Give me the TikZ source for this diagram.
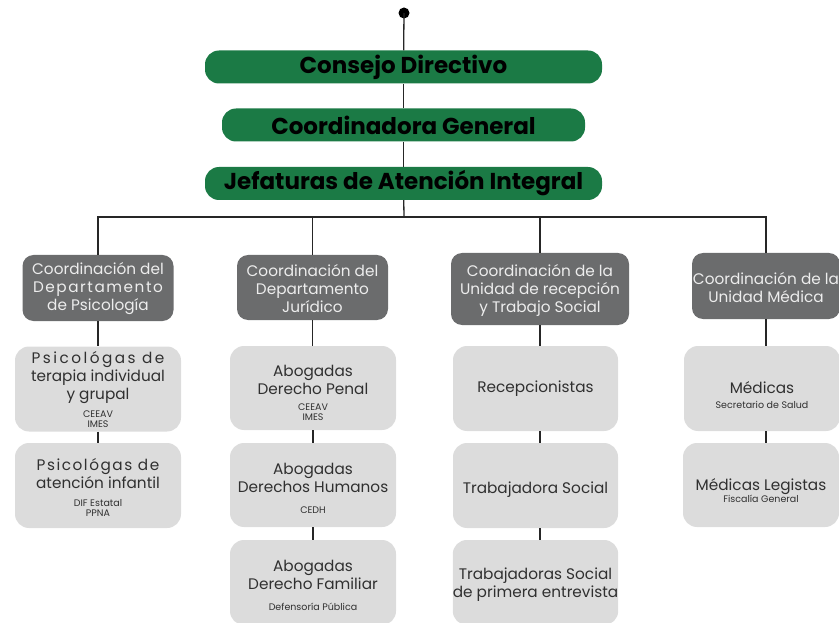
\documentclass[tikz,border=0pt]{standalone}
\usepackage{fontspec}
\setmainfont{Poppins}
\definecolor{vgreen}{HTML}{1B7A45}
\definecolor{dgray}{HTML}{6B6C6D}
\definecolor{lgray}{HTML}{DCDCDC}
\definecolor{ltext}{HTML}{303030}
\definecolor{wtext}{HTML}{EDEDED}
\newcommand\subtxt[1]{{\fontsize{9.5}{11}\selectfont #1}}
\newcommand\spaced[2]{{\addfontfeature{LetterSpace=#1}#2}}
\newcommand\down[1]{\rule{0pt}{#1pt}}
\begin{document}
\begin{tikzpicture}[x=1pt,y=-1pt,
  greenbox/.style={fill=vgreen, rounded corners=14pt, text=black,
    font=\fontsize{23}{26}\selectfont\bfseries, inner sep=0pt, minimum height=33pt},
  coordbox/.style={fill=dgray, rounded corners=11pt, text=wtext, align=center,
    font=\fontsize{15.3}{18}\selectfont, inner sep=0pt, minimum height=66pt},
  staffbox/.style={fill=lgray, rounded corners=14pt, text=ltext, align=center,
    font=\fontsize{15.3}{18}\selectfont, inner sep=0pt, minimum width=166pt, minimum height=85pt},
  link/.style={draw=black!85, line width=1.3pt}
]
\useasboundingbox (0,0) rectangle (839,623);

% top
\coordinate (top) at (404,13);
\node[greenbox, minimum width=397pt] (cd) at (403.5,67) {Consejo Directivo};
\node[greenbox, minimum width=363pt] (cg) at (403.5,125) {Coordinadora General};
\node[greenbox, minimum width=397pt] (ja) at (403.5,183.5) {Jefaturas de Atención Integral};

% coordination boxes
\node[coordbox, minimum width=151pt] (d1) at (98,288)
  {\down{14}Coordinación del\\\spaced{10}{Departamento}\\de Psicología};
\node[coordbox, minimum width=151pt, minimum height=65pt] (d2) at (312.5,287.5)
  {\down{14}Coordinación del\\Departamento\\Jurídico};
\node[coordbox, minimum width=178pt, minimum height=72pt] (d3) at (540,289)
  {\down{14}Coordinación de la\\Unidad de recepción\\y Trabajo Social};
\node[coordbox, minimum width=148pt] (d4) at (766,286)
  {\down{15}Coordinación de la\\Unidad Médica};

% staff boxes
\node[staffbox] (l11) at (98,389)
  {\spaced{16}{Psicológas de}\\terapia individual\\y grupal\\[0pt]\subtxt{CEEAV}\\[-8pt]\subtxt{IMES}};
\node[staffbox] (l12) at (98,485.5)
  {\down{16}\spaced{10}{Psicológas de}\\atención infantil\\[0pt]\subtxt{DIF Estatal}\\[-8pt]\subtxt{PPNA}};
\node[staffbox, minimum height=84pt] (l21) at (313,388)
  {\down{22}Abogadas\\Derecho Penal\\[-2pt]\subtxt{CEEAV}\\[-8pt]\subtxt{IMES}};
\node[staffbox, minimum height=84pt] (l22) at (313,485)
  {\down{18}Abogadas\\Derechos Humanos\\[3pt]\subtxt{CEDH}};
\node[staffbox] (l23) at (313,582.5)
  {\down{17}Abogadas\\Derecho Familiar\\[3pt]\subtxt{Defensoría Pública}};
\node[staffbox, minimum width=165pt] (l31) at (535.5,388.5) {Recepcionistas};
\node[staffbox, minimum width=165pt] (l32) at (535.5,485.5) {\down{20}Trabajadora Social};
\node[staffbox, minimum width=165pt] (l33) at (535.5,582.5)
  {\down{16}Trabajadoras Social\\de primera entrevista};
\node[staffbox, minimum width=156pt] (l41) at (762,388.5)
  {\down{26}Médicas\\[-3pt]\subtxt{Secretario de Salud}};
\node[staffbox, minimum width=156pt, minimum height=84pt] (l42) at (761,485)
  {\down{24}Médicas Legistas\\[-6pt]\subtxt{Fiscalía General}};

% connectors
\fill (top) circle (5.5pt);
\coordinate (bar) at (404,217);
\coordinate (b1) at (98,217);
\coordinate (b4) at (766,217);
\draw[link] (top) -- (cd);
\draw[link] (cd) -- (cg);
\draw[link] (cg) -- (ja);
\draw[link] (ja) -- (bar);
\draw[link] (d1.north) |- (b1) -- (b4) -- (d4.north);
\draw[link] (d2.north) -- (d2.north |- bar);
\draw[link] (d3.north) -- (d3.north |- bar);
\draw[link] (d1) -- (l11);
\draw[link] (l11) -- (l12);
\draw[link] (d2) -- (d2 |- l21.north);
\draw[link] (l21) -- (l21 |- l22.north);
\draw[link] (l22) -- (l22 |- l23.north);
\draw[link] (d3.south) -- (d3.south |- l31.north);
\draw[link] (l31.south -| d3) -- (l32.north -| d3);
\draw[link] (l32.south -| d3) -- (l33.north -| d3);
\draw[link] (d4.south) -- (d4.south |- l41.north);
\draw[link] (l41.south -| d4) -- (l42.north -| d4);
\end{tikzpicture}
\end{document}
